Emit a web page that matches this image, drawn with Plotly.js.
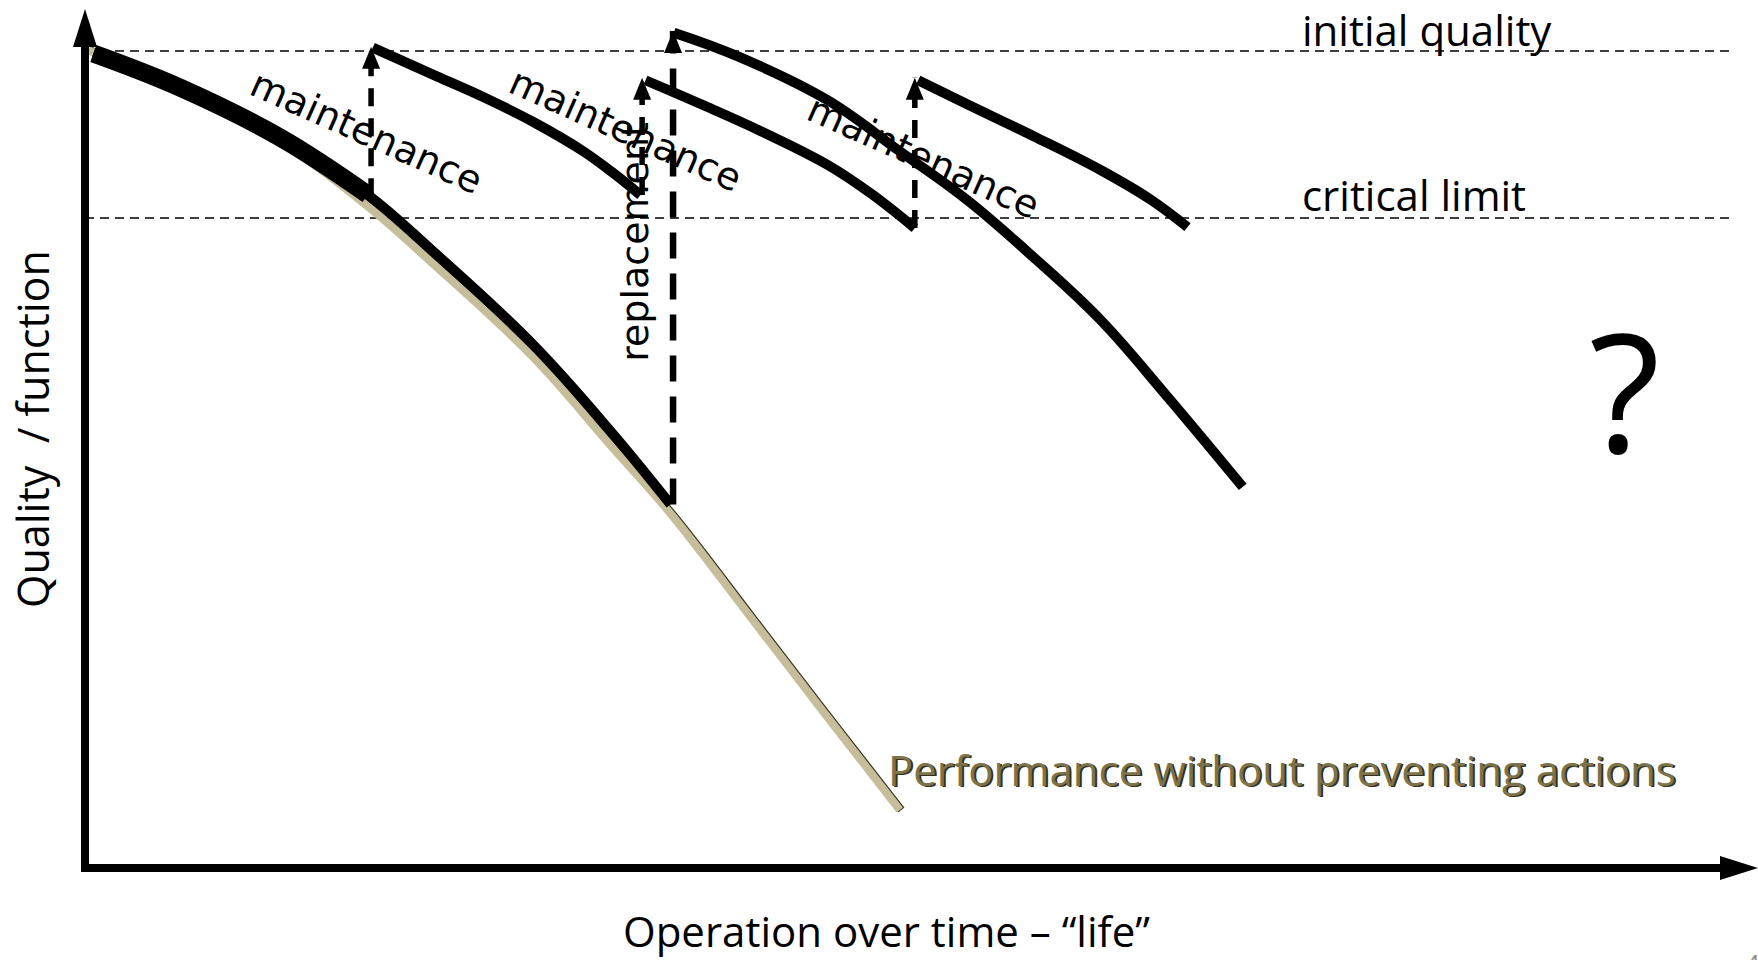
<!DOCTYPE html>
<html>
<head>
<meta charset="utf-8">
<script src="https://cdn.plot.ly/plotly-3.0.1.min.js"></script>
<style>
  html, body { margin:0; padding:0; background:#fff; }
  #chart { width:1758px; height:960px; }
</style>
</head>
<body>
<div id="chart"></div>
<script>
// ---- Data (time units 0..100, quality units; initial quality = 100) ----
const initialQuality = 100;
const criticalLimit = 80;

// degradation curve until replacement
const mainT = [0.5, 5.7, 11.7, 16.9, 20.7, 26.7, 31.4, 35.0];
const mainQ = [99.7, 95.6, 89.6, 82.8, 76.2, 65.0, 54.5, 45.7];

// performance without preventing actions
const noActionT = [0.2, 5.7, 11.7, 16.9, 20.7, 26.7, 31.4, 35.0, 39.9, 44.2, 48.7];
const noActionQ = [100.1, 95.1, 89.0, 81.4, 74.7, 63.5, 52.8, 44.6, 31.9, 20.7, 9.1];

// after 1st maintenance
const m1T = [17.2, 21.0, 23.9, 26.8, 29.7, 31.5, 33.2];
const m1Q = [100.4, 97.0, 94.4, 91.5, 88.1, 85.5, 82.75];
// after 2nd maintenance
const m2T = [33.5, 36.8, 40.4, 44.4, 47.0, 49.6];
const m2Q = [96.5, 93.65, 90.4, 86.35, 82.9, 78.8];
// after replacement
const repT = [35.2, 39.1, 44.4, 48.7, 52.7, 56.7, 60.7, 64.7, 69.2];
const repQ = [102.2, 99.3, 94.1, 88.0, 82.2, 75.3, 67.8, 58.6, 47.8];
// after 3rd maintenance
const m3T = [49.8, 52.7, 56.7, 60.7, 63.7, 65.9];
const m3Q = [96.5, 93.65, 89.8, 85.75, 82.2, 78.9];

// interventions (vertical dashed arrows)
const eventT    = [17.1, 33.3, 35.15, 49.6];
const eventFrom = [82.6, 82.75, 45.7, 78.8];
const eventTo   = [100.5, 96.8, 102.4, 96.8];
const eventKind = ['maintenance', 'maintenance', 'replacement', 'maintenance'];

const levelEndT = 98.4;

// ---- Traces ----
const SM = 1.1;
const traces = [];
// shadow of the no-action line (on shifted axis x)
traces.push({x: noActionT, y: noActionQ, xaxis:'x', yaxis:'y', mode:'lines',
  line:{color:'#3b3826', width:8, shape:'spline', smoothing:SM}, hoverinfo:'skip'});

function add(tr){ tr.xaxis='x2'; tr.yaxis='y'; tr.hoverinfo='skip'; traces.push(tr); }

// reference levels
[initialQuality, criticalLimit].forEach(q => add({x:[0, levelEndT], y:[q, q], mode:'lines',
  line:{color:'#000', width:1.5, dash:'9px,6px'}}));

// no-action line
add({x: noActionT, y: noActionQ, mode:'lines',
  line:{color:'#c6be9b', width:8, shape:'spline', smoothing:SM}});

// dashed intervention lines
eventT.forEach((t, i) => add({x:[t, t], y:[eventFrom[i], eventTo[i]], mode:'lines',
  line:{color:'#000', width: eventKind[i]==='replacement' ? 6.5 : 5.5,
        dash: eventKind[i]==='replacement' ? '26px,15px' : '18px,12px'}}));

// main degradation (thick early part + full curve)
add({x: mainT.slice(0,4), y: mainQ.slice(0,4), mode:'lines',
  line:{color:'#000', width:18, shape:'spline', smoothing:SM}});
add({x: mainT, y: mainQ, mode:'lines', line:{color:'#000', width:10, shape:'spline', smoothing:SM}});
[[m1T,m1Q],[m2T,m2Q],[repT,repQ],[m3T,m3Q]].forEach(([tx,qy]) => add({x:tx, y:qy, mode:'lines',
  line:{color:'#000', width:10, shape:'spline', smoothing:SM}}));

// ---- Shapes ----
const shapes = [];
// arrow heads of interventions
eventT.forEach((t, i) => shapes.push({type:'path', xref:'x2', yref:'y',
  xsizemode:'pixel', ysizemode:'pixel', xanchor:t, yanchor:eventTo[i],
  path:'M-9,-22 L0,0 L9,-22 Z', fillcolor:'#000', line:{width:0}}));
// axes
const plotH = 868, plotW = 1673;
shapes.push({type:'line', xref:'paper', yref:'paper', x0:0, x1:0, y0:-4/plotH, y1:(plotH-44)/plotH,
  line:{color:'#000', width:8}});
shapes.push({type:'line', xref:'paper', yref:'paper', x0:-4/plotW, x1:(plotW-36)/plotW, y0:0, y1:0,
  line:{color:'#000', width:8}});
shapes.push({type:'path', xref:'paper', yref:'paper', xsizemode:'pixel', ysizemode:'pixel',
  xanchor:0, yanchor:(plotH-9)/plotH, path:'M-12,-38 L0,0 L12,-38 Z', fillcolor:'#000', line:{width:0}});
shapes.push({type:'path', xref:'paper', yref:'paper', xsizemode:'pixel', ysizemode:'pixel',
  xanchor:1, yanchor:0, path:'M0,0 L-38,12 L-38,-12 Z', fillcolor:'#000', line:{width:0}});

// ---- Annotations ----
const calib = 'Open Sans, Lato, sans-serif';
const dj = 'DejaVu Sans, sans-serif';
const ann = [];
ann.push({xref:'x2', yref:'y', x:72.6, y:initialQuality, yshift:22, xanchor:'left', yanchor:'middle',
  text:'initial quality', showarrow:false, font:{family:calib, size:42, color:'#000'}});
ann.push({xref:'x2', yref:'y', x:72.6, y:criticalLimit, yshift:24, xanchor:'left', yanchor:'middle',
  text:'critical limit', showarrow:false, font:{family:calib, size:42, color:'#000'}});
// intervention labels
const labelPos = [[16.8, 90.3, 24], [32.3, 90.5, 24], [32.9, 77.2, -90], [50.1, 87.3, 24]];
eventKind.forEach((k, i) => ann.push({xref:'x2', yref:'y', x:labelPos[i][0], y:labelPos[i][1],
  text:k, textangle:labelPos[i][2], showarrow:false, xanchor:'center', yanchor:'middle',
  font:{family:dj, size:38, color:'#000'}}));
// no-action label with shadow
ann.push({xref:'x2', yref:'y', x:47.9, y:14.0, xshift:1.5, yshift:-1.5, xanchor:'left', yanchor:'middle',
  text:'Performance without preventing actions', showarrow:false, font:{family:calib, size:42, color:'#34311f'}});
ann.push({xref:'x2', yref:'y', x:47.9, y:14.0, xanchor:'left', yanchor:'middle',
  text:'Performance without preventing actions', showarrow:false, font:{family:calib, size:42, color:'#7d734b'}});
ann.push({xref:'paper', yref:'paper', x:0.92, y:0.552, text:'?', showarrow:false,
  xanchor:'center', yanchor:'middle', font:{family:calib, size:165, color:'#000'}});
ann.push({xref:'paper', yref:'paper', x:0.4788, y:0, yshift:-62, xanchor:'center', yanchor:'middle',
  text:'Operation over time – “life”', showarrow:false, font:{family:calib, size:42, color:'#000'}});
ann.push({xref:'paper', yref:'paper', x:0, xshift:-52, y:0.5058, textangle:-90, xanchor:'center', yanchor:'middle',
  text:'Quality\u00A0\u00A0/ function', showarrow:false, font:{family:calib, size:43, color:'#000'}});
ann.push({xref:'paper', yref:'paper', x:0.992, y:0, yshift:-80, xanchor:'left', yanchor:'top',
  text:'4', showarrow:false, font:{family:'Liberation Sans, Arial, sans-serif', size:22, color:'#8c8c8c'}});

const shiftT = 0.09; // ~1.5px shadow offset
const layout = {
  width:1758, height:960,
  margin:{l:85, r:0, t:0, b:92, pad:0},
  paper_bgcolor:'#fff', plot_bgcolor:'#fff',
  showlegend:false,
  xaxis:{range:[-shiftT, 100-shiftT], visible:false, fixedrange:true},
  xaxis2:{range:[0, 100], overlaying:'x', visible:false, fixedrange:true},
  yaxis:{range:[2.16, 106.11], visible:false, fixedrange:true},
  shapes: shapes,
  annotations: ann
};
Plotly.newPlot('chart', traces, layout, {staticPlot:true, displayModeBar:false});
</script>
</body>
</html>
